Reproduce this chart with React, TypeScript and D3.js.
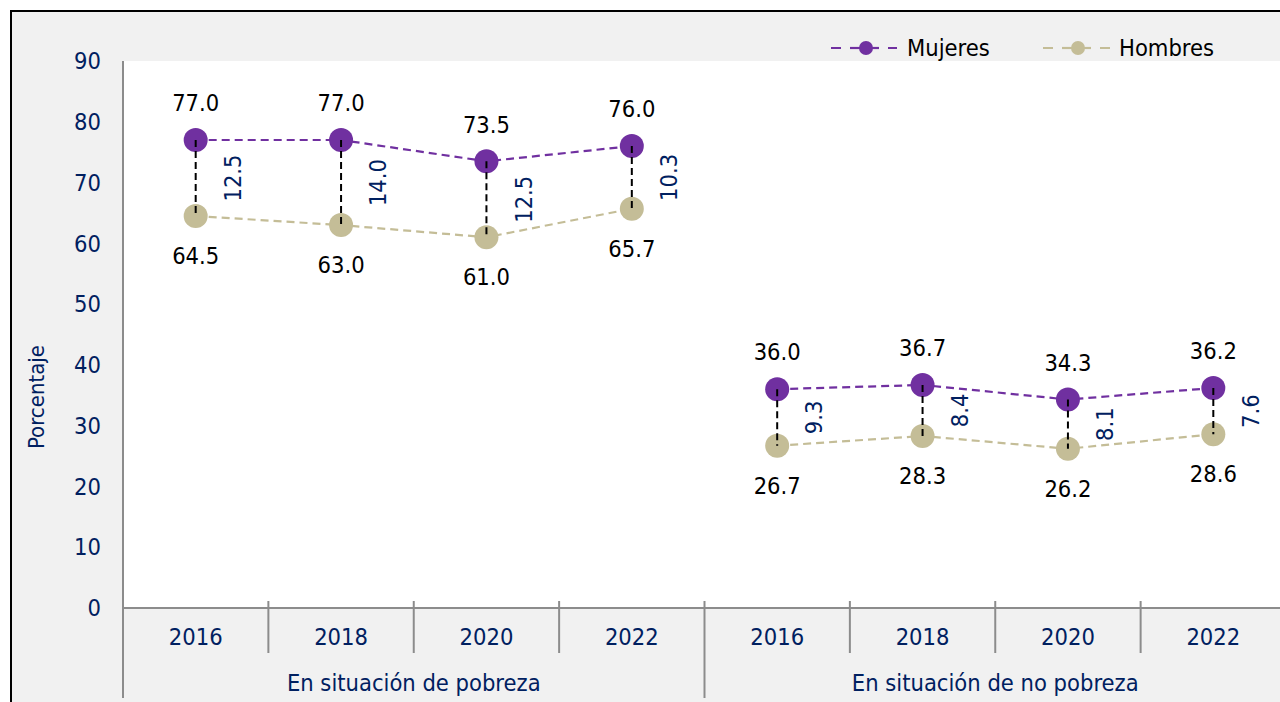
import * as d3 from 'd3';

const grupos = ['En situación de pobreza', 'En situación de no pobreza'];
const anios = ['2016', '2018', '2020', '2022'];
const mujeres = [77.0, 77.0, 73.5, 76.0, 36.0, 36.7, 34.3, 36.2];
const hombres = [64.5, 63.0, 61.0, 65.7, 26.7, 28.3, 26.2, 28.6];
const brecha = [12.5, 14.0, 12.5, 10.3, 9.3, 8.4, 8.1, 7.6];
const yTicks = [0, 10, 20, 30, 40, 50, 60, 70, 80, 90];

const W = 1280;
const H = 702;
const FONT = '"DejaVu Sans Condensed", "DejaVu Sans", sans-serif';
const FS = 23.5;
const NAVY = '#002060';
const PURPLE = '#7030a0';
const TAN = '#c4bd97';

export default function App() {
  const plot = { left: 123, top: 61, bottom: 608, right: 1286 };
  const keys = grupos.flatMap((g) => anios.map((a) => `${g}|${a}`));

  const x = d3.scaleBand<string>().domain(keys).range([plot.left, plot.right]);
  const y = d3.scaleLinear().domain([0, 90]).range([plot.bottom, plot.top]);
  const cx = (i: number) => (x(keys[i]) ?? 0) + x.bandwidth() / 2;

  // one path per group so the two groups are not joined
  const segment = (vals: number[], g: number) => {
    const idx = anios.map((_, j) => g * anios.length + j);
    return d3
      .line<number>()
      .x((i) => cx(i))
      .y((i) => y(vals[i]))(idx);
  };

  return (
    <svg
      width={W}
      height={H}
      style={{ position: 'absolute', left: 0, top: 0, fontFamily: FONT }}
    >
      <rect x={11} y={11} width={W + 20} height={H + 20} fill="#f1f1f1" stroke="#000" strokeWidth={2} />
      <rect x={plot.left} y={plot.top} width={W - plot.left} height={plot.bottom - plot.top} fill="#fff" />

      {/* y axis labels */}
      {yTicks.map((t) => (
        <text key={t} x={101} y={y(t)} dy="0.35em" textAnchor="end" fontSize={FS} fill={NAVY}>
          {t}
        </text>
      ))}
      <text
        transform={`translate(44,397) rotate(-90)`}
        textAnchor="middle"
        fontSize={22}
        fill={NAVY}
      >
        Porcentaje
      </text>

      {/* axes */}
      <line x1={plot.left} x2={plot.left} y1={plot.top} y2={698} stroke="#8c8c8c" strokeWidth={2} />
      <line x1={plot.left} x2={W} y1={plot.bottom} y2={plot.bottom} stroke="#8c8c8c" strokeWidth={2} />
      {keys.map((k, i) =>
        i === 0 ? null : (
          <line
            key={k}
            x1={x(k)}
            x2={x(k)}
            y1={601}
            y2={i % anios.length === 0 ? 698 : 653}
            stroke="#8c8c8c"
            strokeWidth={2}
          />
        )
      )}
      <line x1={plot.right} x2={plot.right} y1={601} y2={698} stroke="#8c8c8c" strokeWidth={2} />

      {keys.map((k, i) => (
        <text key={k} x={cx(i)} y={637} dy="0.35em" textAnchor="middle" fontSize={FS} fill={NAVY}>
          {anios[i % anios.length]}
        </text>
      ))}
      {grupos.map((g, gi) => {
        const first = x(keys[gi * anios.length]) ?? 0;
        const gx = first + (x.bandwidth() * anios.length) / 2;
        return (
          <text key={g} x={gx} y={683} dy="0.35em" textAnchor="middle" fontSize={FS} fill={NAVY}>
            {g}
          </text>
        );
      })}

      {/* series lines */}
      {grupos.map((g, gi) => (
        <g key={g}>
          <path d={segment(hombres, gi) ?? ''} fill="none" stroke={TAN} strokeWidth={2.2} strokeDasharray="8,5" />
          <path d={segment(mujeres, gi) ?? ''} fill="none" stroke={PURPLE} strokeWidth={2.2} strokeDasharray="8,5" />
        </g>
      ))}

      {/* markers */}
      {hombres.map((v, i) => (
        <circle key={`h${i}`} cx={cx(i)} cy={y(v)} r={12} fill={TAN} />
      ))}
      {mujeres.map((v, i) => (
        <circle key={`m${i}`} cx={cx(i)} cy={y(v)} r={12} fill={PURPLE} />
      ))}

      {/* gap connectors */}
      {mujeres.map((v, i) => (
        <line
          key={`c${i}`}
          x1={cx(i)}
          x2={cx(i)}
          y1={y(v)}
          y2={y(hombres[i])}
          stroke="#000"
          strokeWidth={2}
          strokeDasharray="7,4"
        />
      ))}

      {/* value labels */}
      {mujeres.map((v, i) => (
        <text key={`ml${i}`} x={cx(i)} y={y(v) - 37} dy="0.35em" textAnchor="middle" fontSize={FS} fill="#000">
          {v.toFixed(1)}
        </text>
      ))}
      {hombres.map((v, i) => (
        <text key={`hl${i}`} x={cx(i)} y={y(v) + 40} dy="0.35em" textAnchor="middle" fontSize={FS} fill="#000">
          {v.toFixed(1)}
        </text>
      ))}
      {brecha.map((b, i) => {
        const my = (y(mujeres[i]) + y(hombres[i])) / 2;
        return (
          <text
            key={`b${i}`}
            transform={`translate(${cx(i) + 37},${my}) rotate(-90)`}
            dy="0.35em"
            textAnchor="middle"
            fontSize={FS}
            fill={NAVY}
          >
            {b.toFixed(1)}
          </text>
        );
      })}

      {/* legend */}
      <g>
        <line x1={831} x2={897} y1={48} y2={48} stroke={PURPLE} strokeWidth={2.2} strokeDasharray="10,9" />
        <line x1={850} x2={879} y1={48} y2={48} stroke={PURPLE} strokeWidth={2.2} />
        <circle cx={866} cy={48} r={7} fill={PURPLE} />
        <text x={907} y={48} dy="0.35em" fontSize={FS} fill="#000">
          Mujeres
        </text>
        <line x1={1043} x2={1110} y1={48} y2={48} stroke={TAN} strokeWidth={2.2} strokeDasharray="10,9" />
        <line x1={1062} x2={1091} y1={48} y2={48} stroke={TAN} strokeWidth={2.2} />
        <circle cx={1078} cy={48} r={7} fill={TAN} />
        <text x={1119} y={48} dy="0.35em" fontSize={FS} fill="#000">
          Hombres
        </text>
      </g>
    </svg>
  );
}
